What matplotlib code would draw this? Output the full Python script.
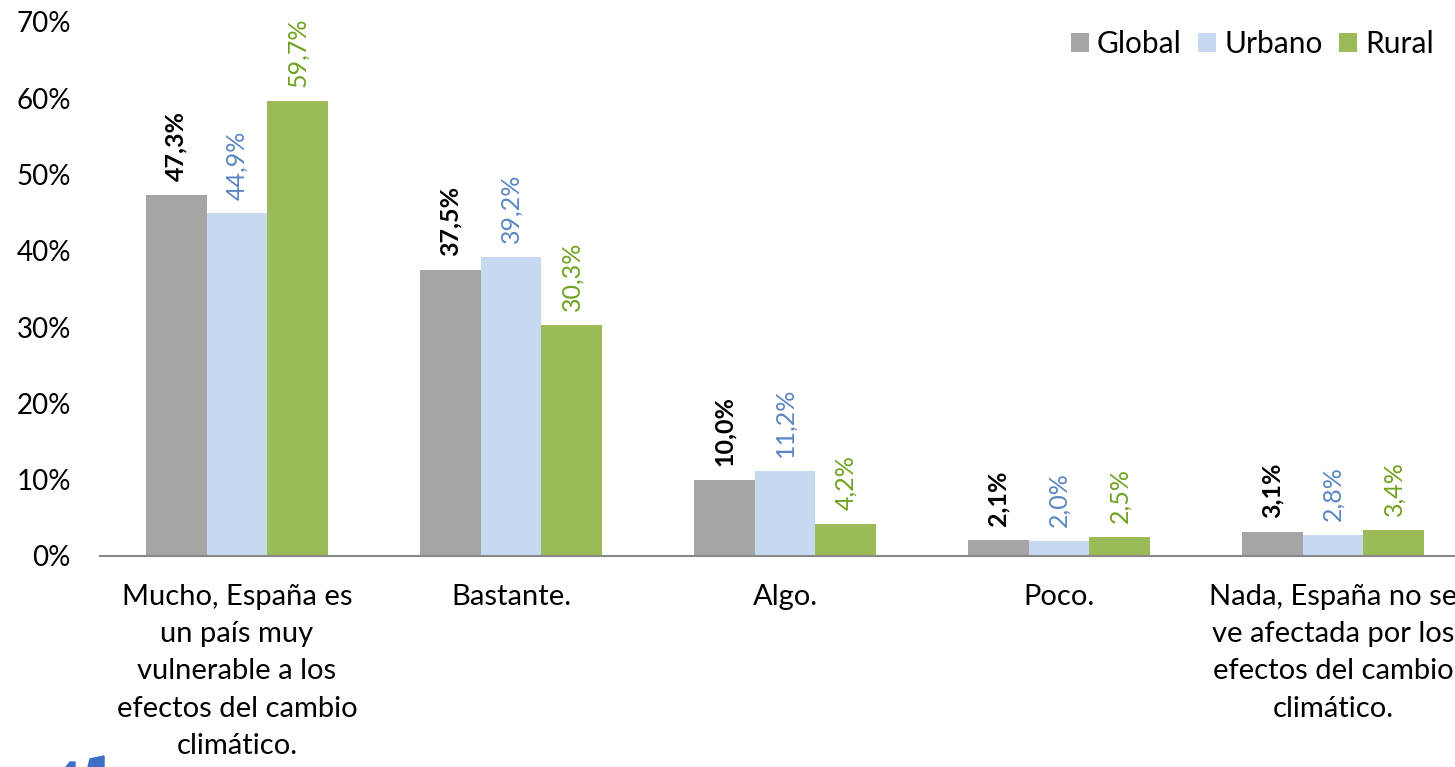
import matplotlib
matplotlib.use("Agg")
import matplotlib.pyplot as plt
from matplotlib.patches import Polygon
import numpy as np

plt.rcParams['font.family'] = ['Lato', 'DejaVu Sans']

categories = ["Mucho, España es\nun país muy\nvulnerable a los\nefectos del cambio\nclimático.",
              "Bastante.", "Algo.", "Poco.",
              "Nada, España no se\nve afectada por los\nefectos del cambio\nclimático."]
series_names = ["Global", "Urbano", "Rural"]
global_vals = [47.3, 37.5, 10.0, 2.1, 3.1]
urbano_vals = [44.9, 39.2, 11.2, 2.0, 2.8]
rural_vals = [59.7, 30.3, 4.2, 2.5, 3.4]
yticks = [0, 10, 20, 30, 40, 50, 60, 70]

bar_colors = ["#A5A5A5", "#C6D9F0", "#9BBB59"]
label_colors = ["#000000", "#5A86C3", "#6FA21E"]
label_weights = ["bold", "normal", "normal"]

W, H = 1455, 767
fig = plt.figure(figsize=(W/100, H/100), dpi=100)
ax = fig.add_axes([100/W, 211/H, 1370/W, 534/H])

x = np.arange(len(categories))
bw = 0.222
for i, (vals, name) in enumerate(zip([global_vals, urbano_vals, rural_vals], series_names)):
    pos = x + (i - 1) * bw
    ax.bar(pos, vals, width=bw, color=bar_colors[i], label=name, zorder=2)
    for xp, v in zip(pos, vals):
        ax.annotate(f"{v:.1f}%".replace('.', ','), (xp, v), xytext=(0, 10),
                    textcoords='offset points', rotation=90, ha='center', va='bottom',
                    fontsize=18, color=label_colors[i], fontweight=label_weights[i])

ax.set_xlim(-0.5, 4.5)
ax.set_ylim(0, 70)
ax.set_yticks(yticks)
ax.set_yticklabels([f"{t}%" for t in yticks], fontsize=20)
ax.set_xticks(x)
ax.set_xticklabels(categories, fontsize=21, linespacing=1.54, va='top')
ax.tick_params(axis='both', length=0)
ax.tick_params(axis='y', pad=21)
ax.tick_params(axis='x', pad=20)
for s in ['top', 'right', 'left']:
    ax.spines[s].set_visible(False)
ax.spines['bottom'].set_color('#888888')
ax.spines['bottom'].set_linewidth(1.5)

fig.legend(loc='upper right', bbox_to_anchor=(1446/W, 1 - 18/H), ncol=3, frameon=False,
           fontsize=21.5, handlelength=0.6, handleheight=0.6, handletextpad=0.28,
           columnspacing=0.55, borderaxespad=0)

# small logo fragment at bottom-left
for pts in ([(66, 767), (70, 762), (75, 762), (75, 767)],
            [(88, 767), (90, 759), (104, 756), (104, 767)]):
    fig.patches.append(Polygon([(px / W, 1 - py / H) for px, py in pts], closed=True,
                               transform=fig.transFigure, color="#3D6FC4", zorder=5))

fig.savefig("out.png", dpi=100)
